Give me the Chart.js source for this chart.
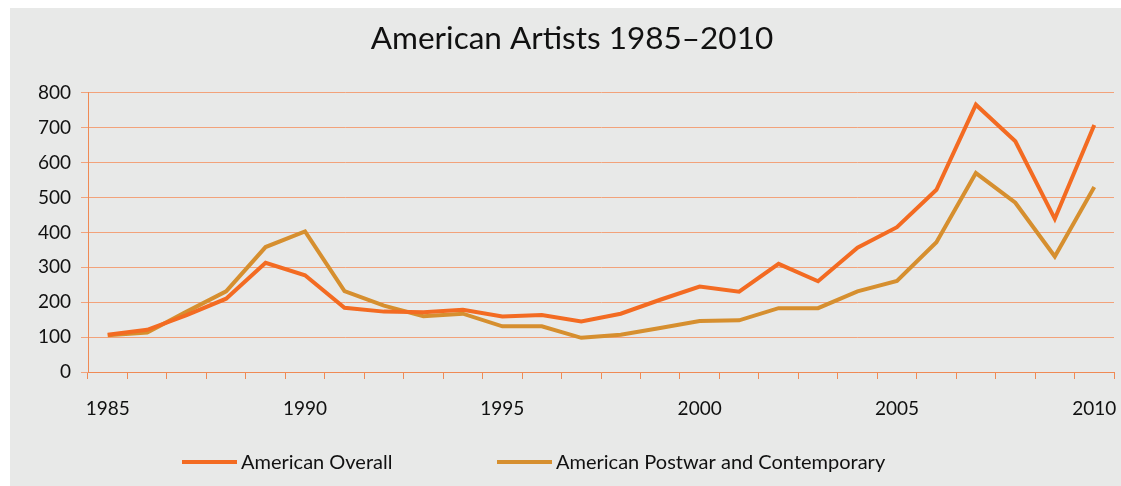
<!DOCTYPE html>
<html>
<head>
<meta charset="utf-8">
<script src="https://cdn.jsdelivr.net/npm/chart.js@4"></script>
<style>
  html, body { margin: 0; padding: 0; background: #fff; overflow: hidden; }
  #bg { position: absolute; left: 10px; top: 8px; right: 0; bottom: 0; background: #e8e9e8; }
  #wrap { position: absolute; left: 30px; top: 8px; width: 1091px; height: 478px; }
</style>
</head>
<body>
<div id="bg"></div>
<div id="wrap"><canvas id="chart"></canvas></div>
<script>
const years = ['1985', '1986', '1987', '1988', '1989', '1990', '1991', '1992', '1993', '1994',
    '1995', '1996', '1997', '1998', '1999', '2000', '2001', '2002', '2003', '2004',
    '2005', '2006', '2007', '2008', '2009', '2010'];
const overall = [107, 121, 163, 210, 313, 277, 184, 173, 171, 178, 159, 163, 145, 167, 207, 245,
    230, 310, 260, 356, 415, 522, 766, 661, 439, 708];
const postwar = [105, 113, 173, 231, 358, 403, 232, 190, 160, 167, 131, 131, 98, 107, 126, 146,
    148, 183, 183, 231, 261, 372, 570, 485, 331, 530];
const seriesNames = ['American Overall', 'American Postwar and Contemporary'];

const FONT = 'Lato, "Open Sans", sans-serif';

// legend drawn by hand so the two items sit where they do in the original
const manualLegend = {
    id: 'manualLegend',
    afterDraw(chart) {
        const ctx = chart.ctx;
        const spots = [152, 467]; // x where each legend line starts
        const y = 454;
        ctx.save();
        ctx.font = '20px ' + FONT;
        ctx.textBaseline = 'middle';
        ctx.fillStyle = '#111';
        chart.data.datasets.forEach((ds, i) => {
            ctx.strokeStyle = ds.borderColor;
            ctx.lineWidth = 4;
            ctx.beginPath();
            ctx.moveTo(spots[i], y);
            ctx.lineTo(spots[i] + 55, y);
            ctx.stroke();
            ctx.fillText(ds.label, spots[i] + 59, y + 1);
        });
        ctx.restore();
    }
};

new Chart(document.getElementById('chart'), {
    type: 'line',
    data: {
        labels: years,
        datasets: [{
            label: seriesNames[0],
            data: overall,
            borderColor: '#f36b22',
            borderWidth: 4,
            pointRadius: 0,
            tension: 0
        }, {
            label: seriesNames[1],
            data: postwar,
            borderColor: '#d68f2f',
            borderWidth: 4,
            pointRadius: 0,
            tension: 0
        }]
    },
    options: {
        responsive: true,
        maintainAspectRatio: false,
        animation: false,
        layout: { padding: { left: 0, right: 7, top: 0, bottom: 0 } },
        plugins: {
            legend: { display: false },
            tooltip: { enabled: false },
            title: {
                display: true,
                text: 'American Artists 1985–2010',
                color: '#111',
                font: { family: FONT, size: 31.5, weight: 'normal' },
                padding: { top: 12, bottom: 35 }
            }
        },
        scales: {
            x: {
                offset: true,
                grid: {
                    offset: true,
                    drawOnChartArea: false,
                    drawTicks: true,
                    tickLength: 7,
                    color: '#ef8a55'
                },
                border: { color: '#ef8a55', width: 1 },
                ticks: {
                    autoSkip: false,
                    maxRotation: 0,
                    padding: 18,
                    color: '#111',
                    font: { family: FONT, size: 19 },
                    callback: function (value) {
                        const y = this.getLabelForValue(value);
                        return Number(y) % 5 === 0 ? y : '';
                    }
                },
                afterFit(scale) {
                    scale.height = 114;
                    scale.paddingLeft = 0;
                    scale.paddingRight = 0;
                }
            },
            y: {
                min: 0,
                max: 800,
                grid: {
                    color: '#f2a27a',
                    tickLength: 7
                },
                border: { color: '#ef8a55', width: 1 },
                ticks: {
                    stepSize: 100,
                    padding: 10,
                    color: '#111',
                    font: { family: FONT, size: 19 }
                },
                afterFit(scale) { scale.width = 58; }
            }
        }
    },
    plugins: [manualLegend]
});
</script>
</body>
</html>
